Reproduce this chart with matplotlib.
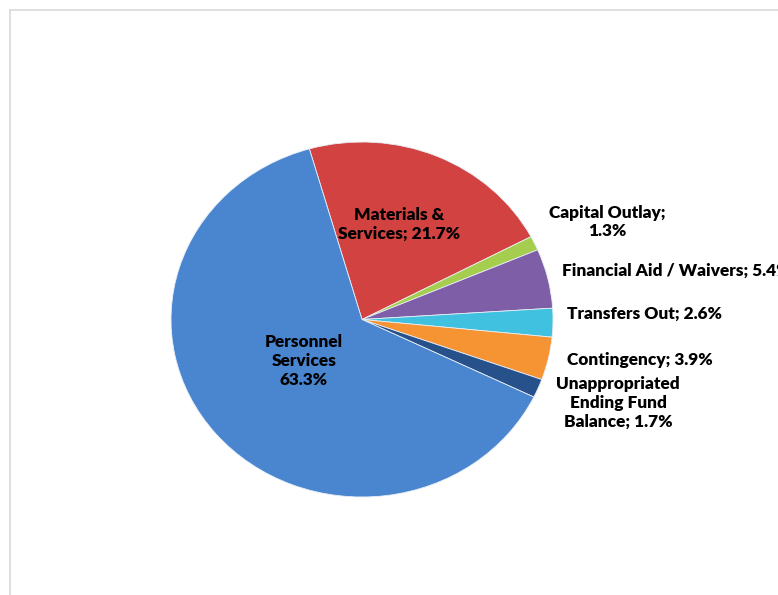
import matplotlib
matplotlib.use("Agg")
import matplotlib.pyplot as plt
from matplotlib.lines import Line2D

# budget shares, clockwise from the top
categories = ["Materials & Services", "Capital Outlay", "Financial Aid / Waivers",
              "Transfers Out", "Contingency", "Unappropriated Ending Fund Balance",
              "Personnel Services"]
shares = [21.7, 1.3, 5.4, 2.6, 3.9, 1.7, 63.3]
colors = ["#D24241", "#A6CE4E", "#7E5EA6", "#3FC1DF", "#F69332", "#27518A", "#4A86CF"]

# label text as drawn next to each slice
label_text = ["Materials &\nServices; 21.7%", "Capital Outlay;\n1.3%",
              "Financial Aid / Waivers; 5.4%", "Transfers Out; 2.6%",
              "Contingency; 3.9%", "Unappropriated\nEnding Fund\nBalance; 1.7%",
              "Personnel\nServices\n63.3%"]

W, H = 778, 595
fig = plt.figure(figsize=(W / 100, H / 100), dpi=100)
fig.patch.set_facecolor("white")

def px(x, y):
    return x / W, 1 - y / H

# pie box in pixels, a bit wider than tall
left, top, right, bottom = 171, 142, 553, 497
ax = fig.add_axes([left / W, 1 - bottom / H, (right - left) / W, (bottom - top) / H])
wedges, _ = ax.pie(shares, colors=colors, startangle=106, counterclock=False,
                   radius=1.0, wedgeprops=dict(edgecolor="#e8eef6", linewidth=0.6))
ax.set_aspect("auto")
ax.set_xlim(-1.0, 1.0)
ax.set_ylim(-1.0, 1.0)
ax.axis("off")

font = dict(family=["Lato", "DejaVu Sans"], weight="heavy", fontsize=12.4, color="black",
            linespacing=1.22)

# (x, y, ha) in pixels
label_pos = [(399, 224, "center"), (607, 222, "center"), (562, 271, "left"),
             (567, 314, "left"), (567, 360, "left"), (618, 403, "center"),
             (304, 361, "center")]
for txt, (x, y, ha) in zip(label_text, label_pos):
    fx, fy = px(x, y)
    fig.text(fx, fy, txt, ha=ha, va="center", multialignment="center", **font)

# chart area frame (top and left edges visible)
fx0, fy0 = px(9.5, 9.5)
fig.add_artist(Line2D([fx0, 1], [fy0, fy0], color="#D9D9D9", lw=1.2))
fig.add_artist(Line2D([fx0, fx0], [0, fy0], color="#D9D9D9", lw=1.2))

fig.savefig("out.png", dpi=100, facecolor="white")
